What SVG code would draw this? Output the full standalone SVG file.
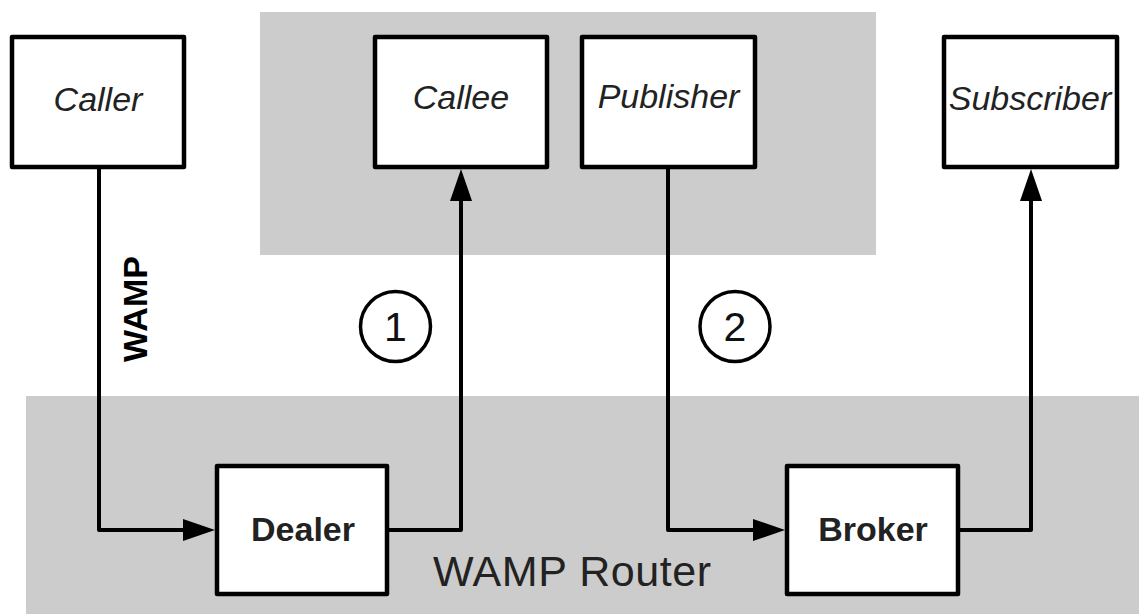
<svg xmlns="http://www.w3.org/2000/svg" width="1139" height="614" viewBox="0 0 1139 614">
<style>
.bg{fill:#cccccc}
.box{fill:#ffffff;stroke:#000000;stroke-width:4.5;stroke-linejoin:round}
.lbl{font-family:"Liberation Sans",Arial,sans-serif;font-size:34px;fill:#222222;text-anchor:middle}
.it{font-style:italic}
.bd{font-weight:bold}
.conn{fill:none;stroke:#000000;stroke-width:4;stroke-linejoin:round}
.num{fill:#ffffff;stroke:#000000;stroke-width:3.5}
.numt{font-family:"Liberation Sans",Arial,sans-serif;font-size:41px;fill:#111111;text-anchor:middle}
</style>
<defs>
<marker id="arr" markerUnits="userSpaceOnUse" markerWidth="32" markerHeight="22" refX="20" refY="11" orient="auto" viewBox="0 0 32 22">
<path d="M0,0 L32,11 L0,22 z" fill="#000000"/>
</marker>
</defs>
<rect class="bg" x="260" y="12" width="616" height="243"/>
<rect class="bg" x="26" y="396" width="1113" height="218"/>
<text x="572" y="586" font-family="'Liberation Sans',Arial,sans-serif" font-size="43" fill="#222222" text-anchor="middle" textLength="278">WAMP Router</text>
<g id="connectors">
<path class="conn" d="M99,169 V530 H203" marker-end="url(#arr)"/>
<path class="conn" d="M389,530 H461 V181" marker-end="url(#arr)"/>
<path class="conn" d="M668,169 V530 H773" marker-end="url(#arr)"/>
<path class="conn" d="M960,530 H1031 V181" marker-end="url(#arr)"/>
<text x="0" y="0" transform="translate(147,309) rotate(-90)" font-family="'Liberation Sans',Arial,sans-serif" font-size="34" font-weight="bold" fill="#000000" text-anchor="middle">WAMP</text>
</g>
<g id="step1">
<circle class="num" cx="395.5" cy="326.5" r="35"/>
<text class="numt" x="395.5" y="341">1</text>
</g>
<g id="step2">
<circle class="num" cx="735" cy="326.5" r="35"/>
<text class="numt" x="735" y="341">2</text>
</g>
<g id="caller">
<rect class="box" x="12" y="37" width="172" height="130"/>
<text class="lbl it" x="98" y="111">Caller</text>
</g>
<g id="callee">
<rect class="box" x="375" y="37" width="172" height="130"/>
<text class="lbl it" x="461" y="109">Callee</text>
</g>
<g id="publisher">
<rect class="box" x="582" y="37" width="173" height="130"/>
<text class="lbl it" x="668.5" y="108">Publisher</text>
</g>
<g id="subscriber">
<rect class="box" x="944" y="37" width="173" height="130"/>
<text class="lbl it" x="1030" y="110">Subscriber</text>
</g>
<g id="dealer">
<rect class="box" x="217" y="466" width="170" height="128"/>
<text class="lbl bd" x="303" y="541">Dealer</text>
</g>
<g id="broker">
<rect class="box" x="787" y="466" width="171" height="128"/>
<text class="lbl bd" x="873" y="541">Broker</text>
</g>
</svg>
